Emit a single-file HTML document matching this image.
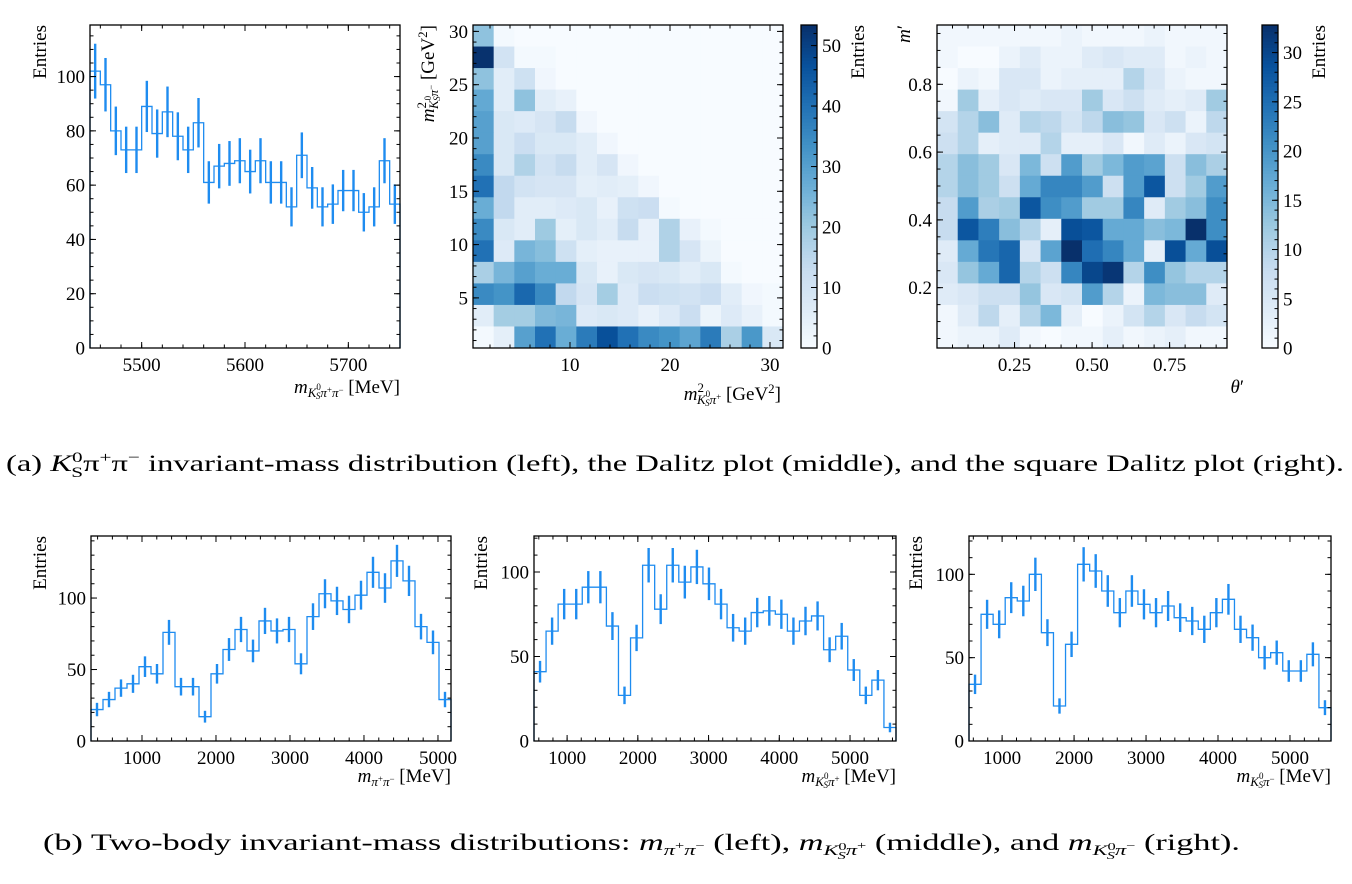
<!DOCTYPE html>
<html><head><meta charset="utf-8">
<style>
html,body{margin:0;padding:0;background:#fff;}
svg{display:block;}
svg text{font-family:"Liberation Serif",serif;}
</style></head>
<body>
<svg id="fig" width="1352" height="884" viewBox="0 0 1352 884" xmlns="http://www.w3.org/2000/svg">
<g id="layer"></g>
<text x="6" y="471" font-size="23" textLength="1338" lengthAdjust="spacingAndGlyphs">(a) <tspan font-style="italic">K</tspan><tspan font-size="15" dy="-9">0</tspan><tspan font-size="15" dx="-8" dy="15">S</tspan><tspan dy="-6">π</tspan><tspan font-size="15" dy="-9">+</tspan><tspan dy="9">π</tspan><tspan font-size="15" dy="-9">−</tspan><tspan dy="9"> invariant-mass distribution (left), the Dalitz plot (middle), and the square Dalitz plot (right).</tspan></text>
<text x="43" y="850" font-size="23" textLength="1197" lengthAdjust="spacingAndGlyphs">(b) Two-body invariant-mass distributions: <tspan font-style="italic">m</tspan><tspan font-size="15" dy="5" font-style="italic">π</tspan><tspan font-size="11" dy="-6">+</tspan><tspan font-size="15" dy="6" font-style="italic">π</tspan><tspan font-size="11" dy="-6">−</tspan><tspan dy="1"> (left), </tspan><tspan font-style="italic">m</tspan><tspan font-size="15" dy="5" font-style="italic">K</tspan><tspan font-size="11" dy="-5">0</tspan><tspan font-size="11" dx="-6" dy="9" font-style="italic">S</tspan><tspan font-size="15" dy="-4" font-style="italic">π</tspan><tspan font-size="11" dy="-6">+</tspan><tspan dy="1"> (middle), and </tspan><tspan font-style="italic">m</tspan><tspan font-size="15" dy="5" font-style="italic">K</tspan><tspan font-size="11" dy="-5">0</tspan><tspan font-size="11" dx="-6" dy="9" font-style="italic">S</tspan><tspan font-size="15" dy="-4" font-style="italic">π</tspan><tspan font-size="11" dy="-6">−</tspan><tspan dy="1"> (right).</tspan></text>
</svg>
<script>
// ---------- data ----------
const massTotalCounts = [102,97,80,73,73,89,79,87,78,73,83,61,67,68,69,65,69,61,61,52,71,59,52,53,58,58,50,52,69,53];
const massPipiCounts = [22,29,37,40,52,47,76,38,38,17,47,64,78,63,84,77,78,54,87,103,98,92,102,118,107,126,112,80,69,29];
const massKpipCounts = [41,65,81,81,91,91,68,27,61,104,78,104,94,103,93,81,67,65,76,77,75,65,71,74,54,62,42,27,36,8];
const massKpimCounts = [34,76,70,86,84,100,65,21,58,106,102,90,77,90,82,77,81,74,72,67,77,85,67,62,50,53,42,42,52,20];
// Dalitz plot counts, rows from top (high y) to bottom
const dalitzCounts = [
 [22,1,0,0,0,0,0,0,0,0,0,0,0,0,0],
 [53,10,1,1,0,0,0,0,0,0,0,0,0,0,0],
 [22,6,11,2,0,0,0,0,0,0,0,0,0,0,0],
 [28,6,22,6,4,0,0,0,0,0,0,0,0,0,0],
 [30,8,7,9,13,2,0,0,0,0,0,0,0,0,0],
 [30,8,12,8,8,6,2,0,0,0,0,0,0,0,0],
 [35,8,17,10,13,6,9,2,0,0,0,0,0,0,0],
 [40,14,10,9,9,5,6,5,2,0,0,0,0,0,0],
 [27,14,6,6,7,8,4,11,12,1,0,0,0,0,0],
 [35,8,6,20,5,8,6,13,4,17,4,1,0,0,0],
 [40,7,25,23,11,5,4,4,4,17,9,3,0,0,0],
 [18,25,30,27,27,8,4,8,9,8,6,8,1,0,0],
 [35,33,42,35,14,9,19,7,12,11,10,12,6,2,1],
 [6,19,19,24,25,7,8,7,4,7,12,3,7,4,1],
 [1,5,30,40,27,38,47,40,35,33,29,38,18,32,8]];
// square Dalitz plot counts, rows from top (high m') to bottom
const squareCounts = [
 [1,1,1,1,1,1,2,1,1,1,2,1,1,1],
 [1,0,0,2,4,2,2,4,5,4,4,1,2,1],
 [0,2,1,5,5,2,3,3,3,10,5,2,1,1],
 [1,12,3,5,4,5,5,12,5,7,4,3,4,12],
 [6,10,14,4,10,9,6,9,14,13,5,7,2,9],
 [7,10,3,4,4,10,3,3,5,1,4,2,5,6],
 [10,14,12,5,15,7,19,12,15,19,18,7,14,11],
 [10,14,12,7,17,22,22,19,7,19,28,7,12,19],
 [8,19,11,12,28,21,19,12,12,22,4,12,14,21],
 [8,28,23,14,10,3,29,28,17,17,14,15,33,21],
 [4,17,24,26,5,18,33,25,22,17,3,29,17,29],
 [5,13,17,26,10,7,22,30,32,10,21,13,10,10],
 [4,5,7,7,13,5,6,19,10,2,15,14,14,4],
 [1,4,9,3,10,15,3,0,2,6,10,5,8,6],
 [1,2,2,4,1,0,1,1,3,1,2,3,1,1]];
const massTotalTicks = [5500,5600,5700];
const entriesTicksTop = [0,20,40,60,80,100];
const entriesTicksBottom = [0,50,100];
const twoBodyTicks = [1000,2000,3000,4000,5000];
const dalitzTicks = [10,20,30];
const dalitzYTicks = [5,10,15,20,25,30];
const squareXTicks = [0.25,0.50,0.75];
const squareYTicks = [0.2,0.4,0.6,0.8];
const cbar1Ticks = [0,10,20,30,40,50];
const cbar2Ticks = [0,5,10,15,20,25,30];

// ---------- helpers ----------
const NS = "http://www.w3.org/2000/svg";
const layer = document.getElementById('layer');
const FS = 19;
function mk(tag, attrs, parent){
  const e = document.createElementNS(NS, tag);
  for (const k in attrs) e.setAttribute(k, attrs[k]);
  (parent||layer).appendChild(e);
  return e;
}
function lin(d0,d1,r0,r1){ return v => r0 + (v-d0)/(d1-d0)*(r1-r0); }
const BLUES = [[247,251,255],[222,235,247],[198,219,239],[158,202,225],[107,174,214],[66,146,198],[33,113,181],[8,81,156],[8,48,107]];
function blues(t){
  t = Math.max(0, Math.min(1, t));
  const p = t*8, i = Math.min(7, Math.floor(p)), f = p - i;
  const a = BLUES[i], b = BLUES[i+1];
  return 'rgb(' + a.map((v,k)=>Math.round(v+(b[k]-v)*f)).join(',') + ')';
}
function ticks(g, P, sx, sy, xt, xminor, yt, yminor, xfmt, yfmt){
  const L = 6, l = 3.5;
  const tk = {stroke:'#000','stroke-width':1};
  for (let v = Math.ceil(P.xmin/xminor)*xminor; v <= P.xmax+1e-9; v += xminor){
    const x = sx(v);
    mk('line', Object.assign({x1:x,x2:x,y1:P.y1,y2:P.y1-l}, tk), g);
    mk('line', Object.assign({x1:x,x2:x,y1:P.y0,y2:P.y0+l}, tk), g);
  }
  for (let v = Math.ceil(P.ymin/yminor)*yminor; v <= P.ymax+1e-9; v += yminor){
    const y = sy(v);
    mk('line', Object.assign({x1:P.x0,x2:P.x0+l,y1:y,y2:y}, tk), g);
    mk('line', Object.assign({x1:P.x1,x2:P.x1-l,y1:y,y2:y}, tk), g);
  }
  xt.forEach(v => {
    const x = sx(v);
    mk('line', Object.assign({x1:x,x2:x,y1:P.y1,y2:P.y1-L}, tk), g);
    mk('line', Object.assign({x1:x,x2:x,y1:P.y0,y2:P.y0+L}, tk), g);
    const t = mk('text', {x:x, y:P.y1+23, 'font-size':FS, 'text-anchor':'middle'}, g);
    
    
    t.textContent = xfmt(v);
  });
  yt.forEach(v => {
    const y = sy(v);
    mk('line', Object.assign({x1:P.x0,x2:P.x0+L,y1:y,y2:y}, tk), g);
    mk('line', Object.assign({x1:P.x1,x2:P.x1-L,y1:y,y2:y}, tk), g);
    const t = mk('text', {x:P.x0-5, y:y+6.5, 'font-size':FS, 'text-anchor':'end'}, g);
    
    
    t.textContent = yfmt(v);
  });
  const fr = mk('rect', {x:P.x0, y:P.y0, width:P.x1-P.x0, height:P.y1-P.y0, fill:'none', stroke:'#000','stroke-width':1.3}, g);
  
  
}
function histPanel(name, P, counts, xt, xminor, yt, yminor){
  const g = mk('g', {});
  
  
  const sx = lin(P.xmin, P.xmax, P.x0, P.x1), sy = lin(P.ymin, P.ymax, P.y1, P.y0);
  const n = counts.length, w = (P.xmax - P.xmin)/n;
  let d = '';
  counts.forEach((c,i) => {
    const xa = sx(P.xmin + i*w), xb = sx(P.xmin + (i+1)*w), y = sy(c);
    d += (i===0 ? 'M'+xa+','+sy(0)+' L'+xa+','+y : ' L'+xa+','+y) + ' L'+xb+','+y;
    if (i===n-1) d += ' L'+xb+','+sy(0);
  });
  const step = mk('path', {d:d, fill:'none', stroke:'#1e8cf0', 'stroke-width':1.3}, g);
  
  
  counts.forEach((c,i) => {
    const xc = sx(P.xmin + (i+0.5)*w), e = Math.sqrt(c);
    const eb = mk('line', {x1:xc, x2:xc, y1:sy(c-e), y2:sy(Math.min(c+e, P.ymax)), stroke:'#1e8cf0', 'stroke-width':2.4}, g);
    
    
  });
  ticks(g, P, sx, sy, xt, xminor, yt, yminor, v=>String(v), v=>String(v));
  return g;
}
function heatPanel(name, P, grid, vmax){
  const g = mk('g', {});
  
  
  const rows = grid.length, cols = grid[0].length;
  const cw = (P.x1-P.x0)/cols, ch = (P.y1-P.y0)/rows;
  grid.forEach((row,r) => row.forEach((v,c) => {
    const cell = mk('rect', {x:P.x0+c*cw, y:P.y0+r*ch, width:cw+0.4, height:ch+0.4, fill:blues(v/vmax)}, g);
    
    
  }));
  return g;
}
function colorbar(name, x0, x1, y0, y1, vmax, tks, minor){
  const g = mk('g', {});
  
  
  const N = 100;
  for (let i=0;i<N;i++){
    mk('rect', {x:x0, y:y1-(i+1)*(y1-y0)/N, width:x1-x0, height:(y1-y0)/N+0.5, fill:blues((i+0.5)/N)}, g);
  }
  const sy = lin(0, vmax, y1, y0);
  for (let v=0; v<=vmax; v+=minor){
    mk('line', {x1:x1, x2:x1-3.5, y1:sy(v), y2:sy(v), stroke:'#000'}, g);
  }
  tks.forEach(v => {
    mk('line', {x1:x1, x2:x1-6, y1:sy(v), y2:sy(v), stroke:'#000'}, g);
    const t = mk('text', {x:x1+5, y:sy(v)+6.5, 'font-size':FS}, g);
    
    
    t.textContent = v;
  });
  mk('rect', {x:x0, y:y0, width:x1-x0, height:y1-y0, fill:'none', stroke:'#000','stroke-width':1.3}, g);
  return g;
}
function rotLabel(x, y, html, name){
  const t = mk('text', {x:0, y:0, 'font-size':FS, 'text-anchor':'end', transform:'translate('+x+','+y+') rotate(-90)'});
  
  
  t.innerHTML = html;
  return t;
}
function hLabel(x, y, html, name){
  const t = mk('text', {x:x, y:y, 'font-size':FS, 'text-anchor':'end'});
  
  
  t.innerHTML = html;
  return t;
}
const K0S = '<tspan font-size="13" dy="4" font-style="italic">K</tspan><tspan font-size="9" dy="-7">0</tspan><tspan font-size="9" dx="-5" dy="9" font-style="italic">S</tspan>';
const PIP = '<tspan font-size="13" dy="-2" font-style="italic">π</tspan><tspan font-size="9" dy="-4">+</tspan>';
const PIM = '<tspan font-size="13" dy="-2" font-style="italic">π</tspan><tspan font-size="9" dy="-4">−</tspan>';

// ---------- panels ----------
histPanel('mass-histogram', {x0:90,x1:400,y0:25,y1:348,xmin:5450,xmax:5750,ymin:0,ymax:119}, massTotalCounts, massTotalTicks, 20, entriesTicksTop, 5);
rotLabel(46, 25, 'Entries', 'y-axis-title');
hLabel(400, 393, '<tspan font-style="italic">m</tspan>' + K0S + PIP + '<tspan font-size="13" dy="4" font-style="italic">π</tspan><tspan font-size="9" dy="-4">−</tspan><tspan dy="0"> [MeV]</tspan>', 'x-axis-title');

const DP = {x0:473,x1:783,y0:25,y1:348,xmin:0.3,xmax:31.3,ymin:0.3,ymax:30.6};
const dg = heatPanel('dalitz-plot', DP, dalitzCounts, 53.4);
ticks(dg, DP, lin(DP.xmin,DP.xmax,DP.x0,DP.x1), lin(DP.ymin,DP.ymax,DP.y1,DP.y0), dalitzTicks, 2, dalitzYTicks, 1, v=>String(v), v=>String(v));
colorbar('dalitz-colorbar', 801, 817, 25, 348, 53.4, cbar1Ticks, 2);
rotLabel(864, 25, 'Entries', 'colorbar-title');
rotLabel(434, 25, '<tspan font-style="italic">m</tspan><tspan font-size="13" dy="-8">2</tspan><tspan font-size="13" dx="-7" dy="12" font-style="italic">K</tspan><tspan font-size="9" dy="-7">0</tspan><tspan font-size="9" dx="-5" dy="9" font-style="italic">S</tspan>' + PIM + '<tspan dy="0"> [GeV</tspan><tspan font-size="13" dy="-7">2</tspan><tspan dy="7">]</tspan>', 'dalitz-y-axis-title');
hLabel(781, 400, '<tspan font-style="italic">m</tspan><tspan font-size="13" dy="-8">2</tspan><tspan font-size="13" dx="-7" dy="12" font-style="italic">K</tspan><tspan font-size="9" dy="-7">0</tspan><tspan font-size="9" dx="-5" dy="9" font-style="italic">S</tspan>' + PIP + '<tspan dy="0"> [GeV</tspan><tspan font-size="13" dy="-7">2</tspan><tspan dy="7">]</tspan>', 'dalitz-x-axis-title');

const SP = {x0:937,x1:1227,y0:25,y1:348,xmin:0,xmax:0.935,ymin:0.022,ymax:0.975};
const sg = heatPanel('square-dalitz-plot', SP, squareCounts, 32.8);
ticks(sg, SP, lin(SP.xmin,SP.xmax,SP.x0,SP.x1), lin(SP.ymin,SP.ymax,SP.y1,SP.y0), squareXTicks, 0.05, squareYTicks, 0.05, v=>v.toFixed(2), v=>v.toFixed(1));
colorbar('square-dalitz-colorbar', 1262, 1278, 25, 348, 32.8, cbar2Ticks, 1);
rotLabel(1325, 25, 'Entries', 'colorbar-title');
rotLabel(910, 25, '<tspan font-style="italic">m</tspan>′', 'square-y-axis-title');
hLabel(1244, 393, '<tspan font-style="italic">θ</tspan>′', 'square-x-axis-title');

histPanel('mpipi-histogram', {x0:91,x1:451,y0:536,y1:741,xmin:311,xmax:5176,ymin:0,ymax:143.4}, massPipiCounts, twoBodyTicks, 200, entriesTicksBottom, 10);
rotLabel(46, 536, 'Entries', 'y-axis-title');
hLabel(451, 782, '<tspan font-style="italic">m</tspan><tspan font-size="13" dy="4" font-style="italic">π</tspan><tspan font-size="9" dy="-4">+</tspan><tspan font-size="13" dy="4" font-style="italic">π</tspan><tspan font-size="9" dy="-4">−</tspan><tspan dy="0"> [MeV]</tspan>', 'x-axis-title');

histPanel('mkpip-histogram', {x0:534,x1:896,y0:536,y1:741,xmin:532,xmax:5650,ymin:0,ymax:121.3}, massKpipCounts, twoBodyTicks, 200, entriesTicksBottom, 10);
rotLabel(487, 536, 'Entries', 'y-axis-title');
hLabel(896, 782, '<tspan font-style="italic">m</tspan>' + K0S + PIP + '<tspan dy="0"> [MeV]</tspan>', 'x-axis-title');

histPanel('mkpim-histogram', {x0:969,x1:1331,y0:536,y1:741,xmin:540,xmax:5570,ymin:0,ymax:123}, massKpimCounts, twoBodyTicks, 200, entriesTicksBottom, 10);
rotLabel(922, 536, 'Entries', 'y-axis-title');
hLabel(1331, 782, '<tspan font-style="italic">m</tspan>' + K0S + PIM + '<tspan dy="0"> [MeV]</tspan>', 'x-axis-title');
</script>
</body></html>
